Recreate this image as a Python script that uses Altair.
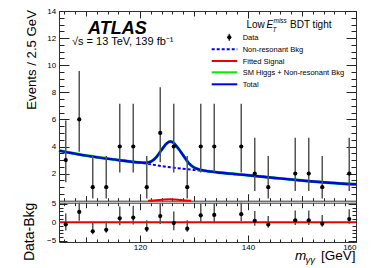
import altair as alt
import pandas as pd

# ---------------- data ----------------
bin_centers = [106.25, 108.75, 111.25, 113.75, 116.25, 118.75, 121.25, 123.75, 126.25, 128.75,
               131.25, 133.75, 136.25, 138.75, 141.25, 143.75, 146.25, 148.75, 151.25, 153.75,
               156.25, 158.75]
counts = [3, 6, 1, 1, 4, 4, 1, 5, 4, 1, 4, 4, 0, 4, 2, 1, 0, 2, 2, 1, 0, 2]
data_minus_bkg = [-0.55, 2.8, -2.4, -2.0, 1.1, 1.3, -1.75, 1.7, -0.2, -1.7,
                  1.9, 2.0, None, 2.2, 0.4, -0.6, None, 0.55, 0.55, -0.35, None, 0.9]
poisson_n = [1, 2, 3, 4, 5, 6]
poisson_up = [2.30, 2.64, 2.92, 3.16, 3.38, 3.58]
poisson_dn = [0.83, 1.29, 1.63, 1.91, 2.16, 2.38]

bkg_x = [105, 110, 115, 120, 125, 130, 135, 140, 145, 150, 155, 160]
bkg_y = [3.70, 3.33, 3.05, 2.81, 2.50, 2.27, 2.05, 1.88, 1.68, 1.49, 1.33, 1.21]

total_x = [105, 110, 115, 120, 121, 122, 123, 124, 125, 125.6, 126, 127, 128, 129, 130, 131,
           132, 135, 140, 145, 150, 155, 160]
total_y = [3.70, 3.33, 3.05, 2.82, 2.80, 2.88, 3.20, 3.75, 4.25, 4.37, 4.33, 3.90, 3.35, 2.78,
           2.45, 2.30, 2.22, 2.06, 1.88, 1.68, 1.49, 1.33, 1.21]

sig_x = [121.5, 122.5, 123.5, 124.5, 125.5, 126.5, 127.5, 128.5, 129.5]
sig_y = [0.0, 0.02, 0.05, 0.09, 0.11, 0.09, 0.05, 0.02, 0.0]

ratio_line_x = [105, 160]
ratio_line_y = [0, 0]

x_major = [120, 140, 160]
x_mid = [110, 130, 150]
x_minor = list(range(106, 161, 2))
ym_major = [2, 4, 6, 8, 10, 12, 14]
ym_minor = [i / 2 for i in range(1, 29)]
yr_major = [-5, 0, 5]
yr_minor = list(range(-5, 6))

# ---------------- tables ----------------
up = dict(zip(poisson_n, poisson_up))
dn = dict(zip(poisson_n, poisson_dn))
pts = pd.DataFrame({"c": bin_centers, "n": counts, "d": data_minus_bkg})
pts = pts[pts.n > 0].copy()
pts["hi"] = pts.n + pts.n.map(up)
pts["lo"] = pts.n - pts.n.map(dn)
pts["dhi"] = pts.d + pts.n.map(up)
pts["dlo"] = pts.d - pts.n.map(dn)

bkg = pd.DataFrame({"x": bkg_x, "y": bkg_y})
tot = pd.DataFrame({"x": total_x, "y": total_y})
sig = pd.DataFrame({"x": sig_x, "y": sig_y})
rline = pd.DataFrame({"x": ratio_line_x, "y": ratio_line_y})
one = pd.DataFrame({"k": [0]})

FONT = "Liberation Sans"
W, H = 297, 231
HM = 189.7      # bottom of main panel
RT = 191.7      # top of ratio panel

xs = alt.Scale(domain=[105, 160], nice=False, zero=False)
yms = alt.Scale(domain=[0, 14], range=[HM, 0], nice=False, zero=False)
yrs = alt.Scale(domain=[-5.3, 5.3], range=[H, RT], nice=False, zero=False, clamp=True)


def axis(orient, values, ts, offset, labels=False, ticks=True, domain=False, lp=2):
    return alt.Axis(orient=orient, values=values, tickSize=ts, offset=offset, labels=labels,
                    ticks=ticks, domain=domain, grid=False, title=None, tickColor="#222",
                    tickWidth=1, domainColor="#333", domainWidth=1, labelFont=FONT,
                    labelFontSize=8, labelColor="black", labelPadding=lp)


xa = [
    axis("bottom", x_major, 7, HM - 7 - H),
    axis("bottom", x_mid, 5, HM - 5 - H),
    axis("bottom", x_minor, 3, HM - 3 - H),
    axis("bottom", x_major, 0, HM - H, ticks=False, domain=True),
    axis("top", x_major, 7, -7),
    axis("top", x_mid, 5, -5),
    axis("top", x_minor, 3, -3),
    axis("top", x_major, 7, -(RT + 7)),
    axis("top", x_mid, 5, -(RT + 5)),
    axis("top", x_minor, 3, -(RT + 3)),
    axis("top", x_major, 0, -RT, ticks=False, domain=True),
    axis("bottom", x_major, 7, -7, labels=True, lp=1.5),
    axis("bottom", x_mid, 5, -5),
    axis("bottom", x_minor, 3, -3),
]
ya_main = [
    axis("left", ym_major, 10, -10, labels=True, lp=3.3),
    axis("left", ym_minor, 5, -5),
    axis("right", ym_major, 10, -10),
    axis("right", ym_minor, 5, -5),
]
ya_ratio = [
    axis("left", yr_major, 8, -8, labels=True, lp=3.3),
    axis("left", yr_minor, 4, -4),
    axis("right", yr_major, 8, -8),
    axis("right", yr_minor, 4, -4),
]

layers = []
for i, xax in enumerate(xa):
    if i < 4:
        yax, sc, fld = ya_main[i], yms, "n"
    elif i < 8:
        yax, sc, fld = ya_ratio[i - 4], yrs, "d"
    else:
        yax, sc, fld = None, yms, "n"
    layers.append(alt.Chart(pts).mark_point(opacity=0).encode(
        x=alt.X("c:Q", scale=xs, axis=xax),
        y=alt.Y(f"{fld}:Q", scale=sc, axis=yax)))

X = lambda f: alt.X(f, scale=xs, axis=None)

# main panel
layers += [
    alt.Chart(bkg).mark_line(color="#0000ee", strokeWidth=2, strokeDash=[3, 2], interpolate="monotone")
       .encode(x=X("x:Q"), y=alt.Y("y:Q", scale=yms, axis=None)),
    alt.Chart(tot).mark_line(color="#00ee00", strokeWidth=3, interpolate="monotone")
       .encode(x=X("x:Q"), y=alt.Y("y:Q", scale=yms, axis=None)),
    alt.Chart(tot).mark_line(color="#0000ee", strokeWidth=2.4, interpolate="monotone")
       .encode(x=X("x:Q"), y=alt.Y("y:Q", scale=yms, axis=None)),
    alt.Chart(sig).mark_line(color="#ee0000", strokeWidth=2, interpolate="monotone")
       .encode(x=X("x:Q"), y=alt.Y("y:Q", scale=yms, axis=None)),
    alt.Chart(pts).mark_rule(color="#555", strokeWidth=1.5)
       .encode(x=X("c:Q"), y=alt.Y("lo:Q", scale=yms, axis=None), y2="hi:Q"),
    alt.Chart(pts).mark_circle(color="black", size=18, opacity=1)
       .encode(x=X("c:Q"), y=alt.Y("n:Q", scale=yms, axis=None)),
]
# ratio panel
layers += [
    alt.Chart(rline).mark_line(color="#ee0000", strokeWidth=2)
       .encode(x=X("x:Q"), y=alt.Y("y:Q", scale=yrs, axis=None)),
    alt.Chart(pts).mark_rule(color="#555", strokeWidth=1.5)
       .encode(x=X("c:Q"), y=alt.Y("dlo:Q", scale=yrs, axis=None), y2="dhi:Q"),
    alt.Chart(pts).mark_circle(color="black", size=18, opacity=1)
       .encode(x=X("c:Q"), y=alt.Y("d:Q", scale=yrs, axis=None)),
]


def txt(text, x, y, size, **kw):
    opts = dict(text=text, fontSize=size, font=FONT, align="left", baseline="alphabetic", color="black")
    opts.update(kw)
    return alt.Chart(one).mark_text(**opts).encode(x=alt.value(x), y=alt.value(y))


def lrule(x1, x2, y, **kw):
    return alt.Chart(one).mark_rule(**kw).encode(x=alt.value(x1), x2=alt.value(x2), y=alt.value(y))


# texts
layers += [
    txt("ATLAS", 29, 23.3, 18, fontWeight="bold", fontStyle="italic"),
    txt("√s = 13 TeV, 139 fb⁻¹", 13, 34, 11),
    txt("Low", 187.5, 17, 10),
    txt("E", 207.5, 17, 10, fontStyle="italic"),
    txt("T", 213.5, 20.5, 6.5, fontStyle="italic"),
    txt("miss", 214.5, 11.5, 6.5, fontStyle="italic"),
    txt("BDT tight", 231, 17, 10),
    txt("Events / 2.5 GeV", -23.5, -1, 13.2, angle=270, align="right"),
    txt("Data-Bkg", -25, RT, 14, angle=270, align="right"),
    txt("m", 236, 249, 13.5, fontStyle="italic"),
    txt("γγ", 246.5, 252, 9.5, fontStyle="italic"),
    txt("[GeV]", 296.5, 249, 13.5, align="right"),
]

# legend
LX1, LX2, LTX = 152.7, 178.3, 183.7
rows = [26.3, 38.3, 50.0, 61.3, 73.3]
labels = ["Data", "Non-resonant Bkg", "Fitted Signal", "SM Higgs + Non-resonant Bkg", "Total"]
for lab, ry in zip(labels, rows):
    layers.append(txt(lab, LTX, ry + 2.7, 7.5))
layers += [
    alt.Chart(one).mark_rule(color="#333", strokeWidth=1.5)
       .encode(x=alt.value(170.3), y=alt.value(rows[0] - 3.5), y2=alt.value(rows[0] + 3.5)),
    alt.Chart(one).mark_circle(color="black", size=18, opacity=1)
       .encode(x=alt.value(170.3), y=alt.value(rows[0])),
    lrule(LX1, LX2, rows[1], color="#0000ee", strokeWidth=2, strokeDash=[3, 2]),
    lrule(LX1, LX2, rows[2], color="#ee0000", strokeWidth=2),
    lrule(LX1, LX2, rows[3], color="#00ee00", strokeWidth=2),
    lrule(LX1, LX2, rows[4], color="#0000ee", strokeWidth=2),
]

chart = (alt.layer(*layers)
         .resolve_scale(y="independent")
         .resolve_axis(x="independent", y="independent")
         .properties(width=W, height=H,
                     autosize=alt.AutoSizeParams(type="none"),
                     padding={"left": 51, "top": 3, "right": 10, "bottom": 26})
         .configure_view(stroke="#333", strokeWidth=1))

chart.save("out.html", embed_options={"renderer": "svg", "actions": False})
